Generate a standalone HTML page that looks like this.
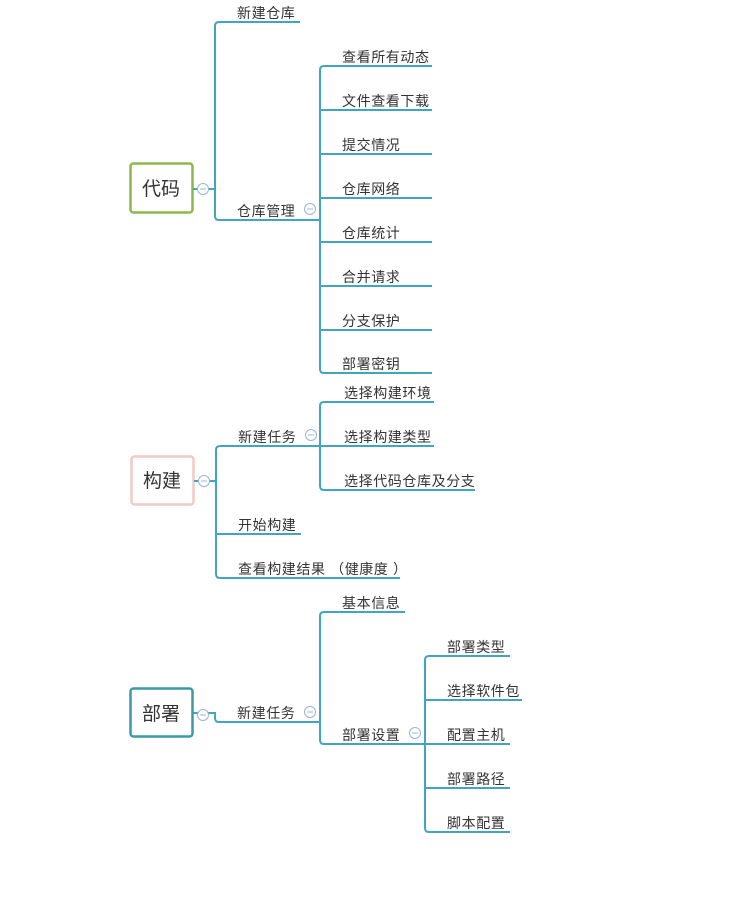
<!DOCTYPE html>
<html><head><meta charset="utf-8"><style>
html,body{margin:0;padding:0;background:#fff;}
svg{display:block;}
text{font-family:"Liberation Sans","Noto Sans CJK SC",sans-serif;fill:#333;font-size:14px;letter-spacing:0.6px;}
.r{font-size:19px;letter-spacing:0;}
path.l{fill:none;stroke:#40a6bf;stroke-width:2;}
circle.c{fill:#fff;stroke:#9bb4d4;stroke-width:1;}
line.m{stroke:#9bb4d4;stroke-width:1;}
</style></head><body>
<svg width="737" height="899" viewBox="0 0 737 899" xmlns="http://www.w3.org/2000/svg">
<!-- 代码 -->
<rect x="130.5" y="163.5" width="62" height="49" rx="3" fill="#fff" stroke="#8ab84a" stroke-width="2.5"/>
<text class="r" x="161" y="195" text-anchor="middle">代码</text>
<path class="l" d="M193 189 H215 M215 189 V26 Q215 22 219 22 H300 M215 189 V216 Q215 220 219 220 H320"/>
<text x="237" y="18">新建仓库</text>
<text x="237" y="216">仓库管理</text>
<path class="l" d="M320 220 V70 Q320 66 324 66 H432 M320 220 V369 Q320 373 324 373 H432 M320 110 H432 M320 154 H432 M320 198 H432 M320 242 H432 M320 286 H432 M320 330 H432"/>
<text x="342" y="62">查看所有动态</text>
<text x="342" y="106">文件查看下载</text>
<text x="342" y="150">提交情况</text>
<text x="342" y="194">仓库网络</text>
<text x="342" y="238">仓库统计</text>
<text x="342" y="282">合并请求</text>
<text x="342" y="326">分支保护</text>
<text x="342" y="369">部署密钥</text>
<circle class="c" cx="203" cy="189" r="5.5"/><line class="m" x1="200" y1="189" x2="206" y2="189"/>
<circle class="c" cx="310" cy="209" r="5.5"/><line class="m" x1="307" y1="209" x2="313" y2="209"/>

<!-- 构建 -->
<rect x="131.5" y="456.5" width="62" height="48" rx="3" fill="#fff" stroke="#f4c9c6" stroke-width="2.5"/>
<text class="r" x="162" y="487" text-anchor="middle">构建</text>
<path class="l" d="M194 481 H216 M216 481 V450 Q216 446 220 446 H320 M216 481 V574 Q216 578 220 578 H400 M216 534 H301"/>
<text x="238" y="442">新建任务</text>
<text x="238" y="530">开始构建</text>
<text x="238" y="574">查看构建结果 （健康度 ）</text>
<path class="l" d="M320 446 V406 Q320 402 324 402 H434 M320 446 H434 M320 446 V486 Q320 490 324 490 H475"/>
<text x="344" y="398">选择构建环境</text>
<text x="344" y="442">选择构建类型</text>
<text x="344" y="486">选择代码仓库及分支</text>
<circle class="c" cx="204" cy="481" r="5.5"/><line class="m" x1="201" y1="481" x2="207" y2="481"/>
<circle class="c" cx="311" cy="435" r="5.5"/><line class="m" x1="308" y1="435" x2="314" y2="435"/>

<!-- 部署 -->
<rect x="130.5" y="688.5" width="62" height="48" rx="3" fill="#fff" stroke="#3a9aa6" stroke-width="2.5"/>
<text class="r" x="161" y="720" text-anchor="middle">部署</text>
<path class="l" d="M193 713 H215 V718 Q215 722 219 722 H320"/>
<text x="237" y="718">新建任务</text>
<path class="l" d="M320 722 V616 Q320 612 324 612 H405 M320 722 V740 Q320 744 324 744 H425"/>
<text x="342" y="608">基本信息</text>
<text x="342" y="740">部署设置</text>
<path class="l" d="M425 744 V660 Q425 656 429 656 H510 M425 744 V828 Q425 832 429 832 H510 M425 700 H522 M425 744 H510 M425 788 H510"/>
<text x="447" y="652">部署类型</text>
<text x="447" y="696">选择软件包</text>
<text x="447" y="740">配置主机</text>
<text x="447" y="784">部署路径</text>
<text x="447" y="828">脚本配置</text>
<circle class="c" cx="203" cy="715" r="5.5"/><line class="m" x1="200" y1="715" x2="206" y2="715"/>
<circle class="c" cx="310" cy="712" r="5.5"/><line class="m" x1="307" y1="712" x2="313" y2="712"/>
<circle class="c" cx="415" cy="733" r="5.5"/><line class="m" x1="412" y1="733" x2="418" y2="733"/>
</svg>
</body></html>
